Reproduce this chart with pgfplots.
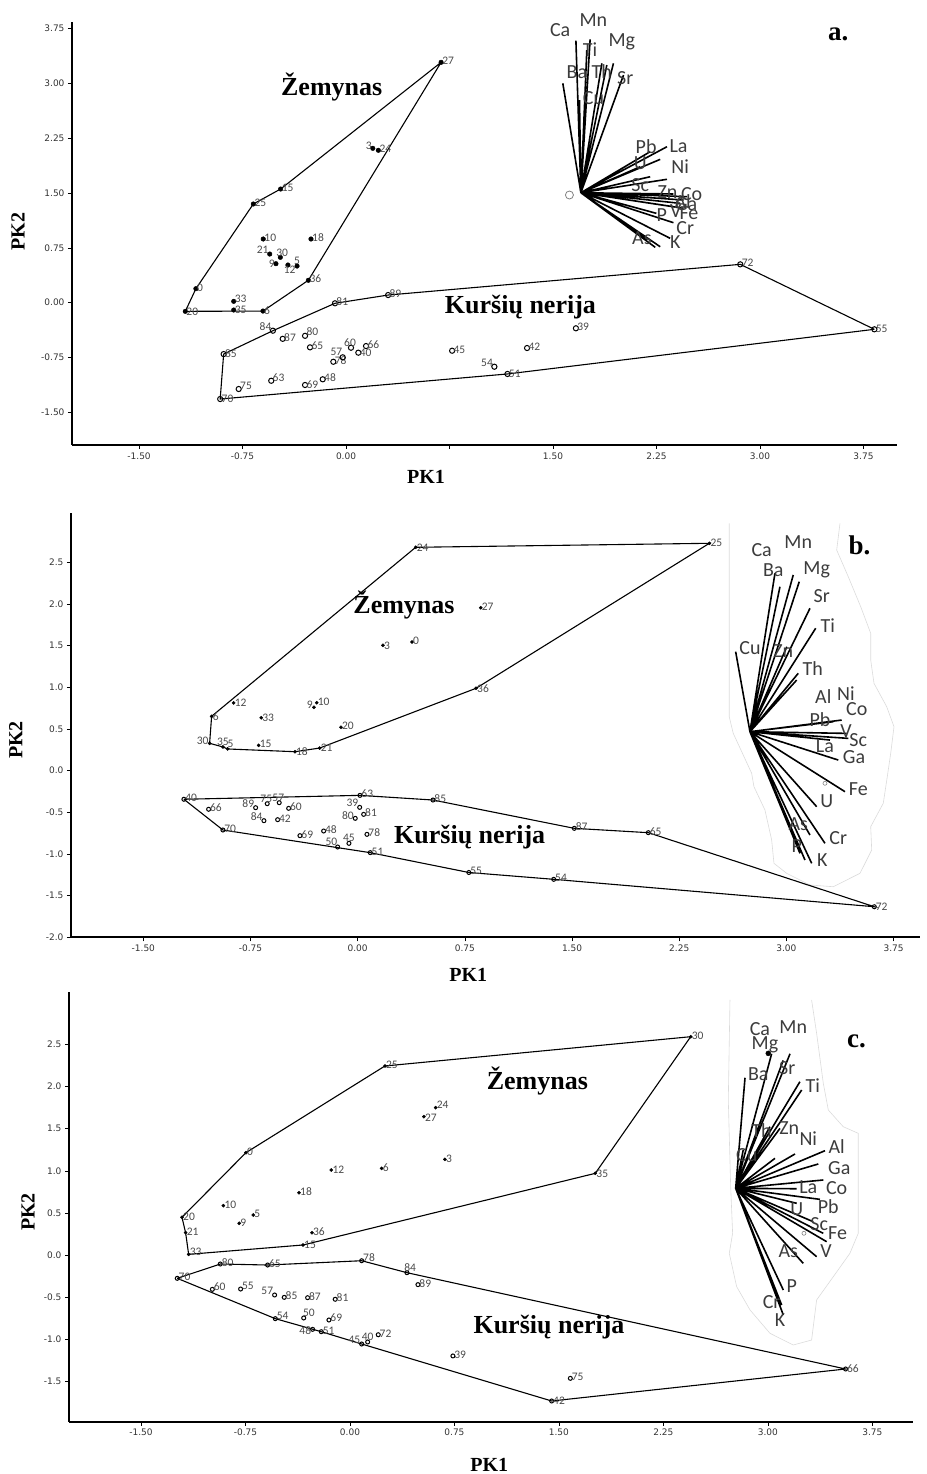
\documentclass[border=0pt]{standalone}
\usepackage{fontspec}
\setmainfont{Liberation Serif}
\newfontfamily\tickfont{DejaVu Sans}
\newfontfamily\labfont{Carlito}
\usepackage{pgfplots}
\pgfplotsset{compat=1.18}
\definecolor{labgray}{HTML}{4A4A4A}
\definecolor{tickgray}{HTML}{333333}
\definecolor{lodgray}{HTML}{3C3C3C}

\pgfplotsset{
  bip/.style={scale only axis, clip=false,
    axis x line*=bottom, axis y line*=left,
    axis line style={line width=2pt,-},
    tick style={black,line width=0.6pt}, tick align=outside, major tick length=4pt,
    ticklabel style={font=\tickfont\fontsize{9}{10}\selectfont, text=tickgray},
    xtick={-1.5,-0.75,0,0.75,1.5,2.25,3,3.75},
    label style={font=\bfseries\fontsize{20}{24}\selectfont, anchor=center},
    xlabel={PK1}, ylabel={PK2}},
  Zp/.style={only marks, mark=*, black, nodes near coords, point meta=explicit symbolic,
    every node near coord/.append style={anchor=#1,
      font=\labfont\fontsize{11.5}{12}\selectfont, text=labgray, inner sep=1pt}},
  Kp/.style={Zp=#1, mark=o, mark options={line width=1pt}},
  hull/.style={black, line width=1.1pt, mark=none},
  lod/.style={black, line width=1.6pt, mark=none, unbounded coords=jump},
  paste/.style={black!14, line width=0.6pt, mark=none},
}
\tikzset{
  ltx/.style={font=\labfont\fontsize{20}{22}\selectfont, text=lodgray, inner sep=0pt, anchor=center},
  big/.style={font=\bfseries\fontsize{26}{30}\selectfont, anchor=center},
}

\begin{document}
\begin{tikzpicture}
\useasboundingbox (0pt,0pt) rectangle (926pt,1474pt);

% ================= a =================
\begin{axis}[bip, at={(72pt,1029pt)}, anchor=south west,
  width=825pt, height=423pt,
  xmin=-1.986, xmax=3.993, ymin=-1.947, ymax=3.842,
  xticklabels={-1.50,-0.75,0.00,,1.50,2.25,3.00,3.75},
  ytick={-1.5,-0.75,0,0.75,1.5,2.25,3,3.75},
  yticklabels={-1.50,-0.75,0.00,0.75,1.50,2.25,3.00,3.75},
  xlabel style={at={(axis description cs:0.429,-0.0757)}},
  ylabel style={at={(axis description cs:-0.0655,0.504)}},
]
\addplot[hull] coordinates {(0.689,3.290) (-0.273,0.307) (-0.602,-0.114) (-1.165,-0.118) (-1.088,0.192) (-0.672,1.351) (-0.474,1.556) (0.689,3.290)};
\addplot[hull] coordinates {(3.829,-0.364) (2.857,0.525) (0.305,0.105) (-0.080,-0.008) (-0.530,-0.383) (-0.887,-0.703) (-0.912,-1.318) (1.170,-0.975) (3.829,-0.364)};
\addplot[lod] coordinates {
(1.702,1.505) (1.666,3.586) (nan,nan) (1.702,1.505) (1.571,3.003) (nan,nan)
(1.702,1.505) (1.769,3.605) (nan,nan) (1.702,1.505) (1.745,3.458) (nan,nan)
(1.702,1.505) (1.692,2.774) (nan,nan) (1.702,1.505) (1.854,3.276) (nan,nan)
(1.702,1.505) (1.938,3.276) (nan,nan) (1.702,1.505) (2.011,3.116) (nan,nan)
(1.702,1.505) (1.890,3.253) (nan,nan) (1.702,1.505) (2.326,2.135) (nan,nan)
(1.702,1.505) (2.277,1.962) (nan,nan) (1.702,1.505) (2.204,2.067) (nan,nan)
(1.702,1.505) (2.132,1.861) (nan,nan) (1.702,1.505) (2.326,1.689) (nan,nan)
(1.702,1.505) (2.204,1.724) (nan,nan) (1.702,1.505) (2.373,1.488) (nan,nan)
(1.702,1.505) (2.471,1.451) (nan,nan) (1.702,1.505) (2.446,1.405) (nan,nan)
(1.702,1.505) (2.422,1.360) (nan,nan) (1.702,1.505) (2.373,1.314) (nan,nan)
(1.702,1.505) (2.446,1.292) (nan,nan) (1.702,1.505) (2.249,1.223) (nan,nan)
(1.702,1.505) (2.373,1.095) (nan,nan) (1.702,1.505) (2.349,0.881) (nan,nan)
(1.702,1.505) (2.241,0.758) (nan,nan) (1.702,1.505) (2.181,0.858) (nan,nan)
(1.702,1.505) (2.277,0.766)};
\addplot[only marks, mark=o, mark size=4pt, gray, mark options={line width=0.8pt}] coordinates {(1.619,1.474)};
% Zemynas (filled)
\addplot[Zp=190, mark size=2.3pt] coordinates {(0.689,3.290)[27] (0.234,2.086)[24] (-0.474,1.556)[15] (-0.672,1.351)[25] (-0.600,0.872)[10] (-0.254,0.872)[18] (-0.273,0.307)[36] (-1.088,0.192)[0]};
\addplot[Zp=330, mark size=2.3pt] coordinates {(0.194,2.113)[3] (-0.553,0.666)[21]};
\addplot[Zp=250, mark size=2.3pt] coordinates {(-0.476,0.621)[30]};
\addplot[Zp=0, mark size=2.3pt] coordinates {(-0.508,0.534)[9]};
\addplot[Zp=110, mark size=2.3pt] coordinates {(-0.421,0.516)[12]};
\addplot[Zp=270, mark size=2.3pt] coordinates {(-0.355,0.502)[5]};
\addplot[Zp=200, mark size=2.3pt] coordinates {(-0.814,0.019)[33]};
\addplot[Zp=180, mark size=2.3pt] coordinates {(-0.814,-0.100)[35] (-1.165,-0.118)[20] (-0.602,-0.114)[6]};
% Kursiu (open)
\addplot[Kp=190, mark size=2.6pt] coordinates {(0.305,0.105)[89] (-0.080,-0.008)[81] (-0.459,-0.494)[87] (-0.261,-0.611)[65] (-0.092,-0.808)[78] (0.145,-0.593)[66] (0.769,-0.657)[45] (-0.169,-1.048)[48] (2.857,0.525)[72] (1.666,-0.350)[39] (1.312,-0.620)[42]};
\addplot[Kp=330, mark size=2.6pt] coordinates {(-0.530,-0.383)[84] (1.075,-0.876)[54]};
\addplot[Kp=210, mark size=2.6pt] coordinates {(-0.297,-0.453)[80]};
\addplot[Kp=180, mark size=2.6pt] coordinates {(-0.887,-0.703)[85] (0.089,-0.684)[40] (-0.297,-1.126)[69] (-0.912,-1.318)[70] (3.829,-0.364)[55] (1.170,-0.975)[51]};
\addplot[Kp=280, mark size=2.6pt] coordinates {(0.036,-0.616)[60]};
\addplot[Kp=320, mark size=2.6pt] coordinates {(-0.024,-0.747)[57]};
\addplot[Kp=200, mark size=2.6pt] coordinates {(-0.542,-1.068)[63] (-0.778,-1.181)[75]};
\node[big] at (axis cs:-0.104,2.956) {Žemynas};
\node[big] at (axis cs:1.264,-0.055) {Kuršių nerija};
\node[big, font=\bfseries\fontsize{27}{30}\selectfont] at (axis cs:3.568,3.666) {a.};
\node[ltx] at (axis cs:1.552,3.732) {Ca};
\node[ltx] at (axis cs:1.793,3.869) {Mn};
\node[ltx] at (axis cs:1.769,3.458) {Ti};
\node[ltx] at (axis cs:1.999,3.572) {Mg};
\node[ltx] at (axis cs:1.673,3.161) {Ba};
\node[ltx] at (axis cs:1.854,3.161) {Th};
\node[ltx] at (axis cs:2.023,3.071) {Sr};
\node[ltx] at (axis cs:1.793,2.797) {Cu};
\node[ltx] at (axis cs:2.175,2.135) {Pb};
\node[ltx] at (axis cs:2.410,2.149) {La};
\node[ltx] at (axis cs:2.132,1.908) {U};
\node[ltx] at (axis cs:2.422,1.861) {Ni};
\node[ltx] at (axis cs:2.132,1.611) {Sc};
\node[ltx] at (axis cs:2.330,1.520) {Zn};
\node[ltx] at (axis cs:2.505,1.480) {Co};
\node[ltx] at (axis cs:2.440,1.390) {Al};
\node[ltx] at (axis cs:2.465,1.345) {Ga};
\node[ltx] at (axis cs:2.390,1.260) {V};
\node[ltx] at (axis cs:2.485,1.225) {Fe};
\node[ltx] at (axis cs:2.289,1.200) {P};
\node[ltx] at (axis cs:2.458,1.018) {Cr};
\node[ltx] at (axis cs:2.144,0.881) {As};
\node[ltx] at (axis cs:2.386,0.835) {K};
\end{axis}

% ================= b =================
\begin{axis}[bip, at={(71pt,536.7pt)}, anchor=south west,
  width=849pt, height=424.3pt,
  xmin=-2.006, xmax=3.935, ymin=-2.0, ymax=3.094,
  xticklabels={-1.50,-0.75,0.00,0.75,1.50,2.25,3.00,3.75},
  ytick={-2,-1.5,-1,-0.5,0,0.5,1,1.5,2,2.5},
  yticklabels={-2.0,-1.5,-1.0,-0.5,0.0,0.5,1.0,1.5,2.0,2.5},
  xlabel style={at={(axis description cs:0.468,-0.089)}},
  ylabel style={at={(axis description cs:-0.065,0.465)}},
]
\addplot[paste] coordinates {(2.600,2.970) (2.600,0.648) (2.628,0.449) (2.757,-0.031) (2.773,-0.192) (2.850,-0.472) (2.897,-0.832) (2.913,-1.112) (3.002,-1.232) (3.165,-1.372) (3.328,-1.393) (3.515,-1.232) (3.597,-0.952) (3.590,-0.672) (3.678,-0.391) (3.706,-0.072) (3.730,0.209) (3.753,0.528) (3.702,0.768) (3.613,1.049) (3.590,1.329) (3.590,1.649) (3.520,1.969) (3.433,2.329) (3.352,2.649) (3.375,2.970)};
\addplot[hull] coordinates {(0.406,2.682) (2.461,2.730) (0.828,0.989) (-0.266,0.272) (-0.439,0.228) (-0.910,0.261) (-0.943,0.285) (-1.036,0.329) (-1.022,0.653) (0.406,2.682)};
\addplot[hull] coordinates {(-1.216,-0.343) (0.016,-0.296) (0.527,-0.352) (1.516,-0.692) (2.034,-0.744) (3.615,-1.633) (1.372,-1.304) (0.778,-1.222) (0.088,-0.984) (-0.943,-0.712) (-1.216,-0.343)};
\addplot[lod] coordinates {
(2.745,0.468) (2.645,1.429) (nan,nan) (2.745,0.468) (2.920,2.370) (nan,nan)
(2.745,0.468) (3.048,2.350) (nan,nan) (2.745,0.468) (3.090,2.269) (nan,nan)
(2.745,0.468) (3.165,1.950) (nan,nan) (2.745,0.468) (3.205,1.710) (nan,nan)
(2.745,0.468) (3.003,1.488) (nan,nan) (2.745,0.468) (3.083,1.169) (nan,nan)
(2.745,0.468) (2.955,2.209) (nan,nan) (2.745,0.468) (3.072,1.088) (nan,nan)
(2.745,0.468) (3.387,0.608) (nan,nan) (2.745,0.468) (3.328,0.588) (nan,nan)
(2.745,0.468) (3.422,0.448) (nan,nan) (2.745,0.468) (3.434,0.388) (nan,nan)
(2.745,0.468) (3.305,0.368) (nan,nan) (2.745,0.468) (3.363,0.128) (nan,nan)
(2.745,0.468) (3.410,-0.252) (nan,nan) (2.745,0.468) (3.212,-0.432) (nan,nan)
(2.745,0.468) (3.270,-0.872) (nan,nan) (2.745,0.468) (3.165,-0.772) (nan,nan)
(2.745,0.468) (3.177,-1.112) (nan,nan) (2.745,0.468) (3.130,-1.072) (nan,nan)
(2.745,0.468) (3.095,-0.992)};
\addplot[only marks, mark=o, mark size=2pt, gray, mark options={line width=0.6pt}] coordinates {(3.270,-0.151)};
\addplot[Zp=180, mark size=1.6pt] coordinates {(0.406,2.682)[24] (2.461,2.730)[25] (0.177,1.505)[3] (0.828,0.989)[36] (-0.868,0.813)[12] (-1.022,0.653)[6] (-0.675,0.636)[33] (-0.439,0.228)[18] (-0.266,0.272)[21]};
\addplot[Zp=190, mark size=1.6pt] coordinates {(0.861,1.957)[27] (0.380,1.545)[0] (-0.287,0.816)[10] (-0.117,0.521)[20] (-0.693,0.305)[15]};
\addplot[Zp=330, mark size=1.6pt] coordinates {(-0.306,0.761)[9]};
\addplot[Zp=340, mark size=1.6pt] coordinates {(-1.036,0.329)[30]};
\addplot[Zp=270, mark size=1.6pt] coordinates {(-0.943,0.285)[35]};
\addplot[Zp=240, mark size=1.6pt] coordinates {(-0.910,0.261)[5]};
\addplot[Kp=190, mark size=2pt] coordinates {(-1.216,-0.343)[40] (-1.043,-0.463)[66] (-0.943,-0.712)[70] (-0.483,-0.452)[60] (-0.560,-0.588)[42] (-0.404,-0.780)[69] (-0.238,-0.724)[48] (0.042,-0.524)[81] (0.016,-0.296)[63] (0.527,-0.352)[85] (0.065,-0.764)[78] (0.088,-0.984)[51] (0.778,-1.222)[55] (1.516,-0.692)[87] (2.034,-0.744)[65] (1.372,-1.304)[54]};
\addplot[Kp=330, mark size=2pt] coordinates {(-0.714,-0.444)[89] (-0.656,-0.600)[84] (0.014,-0.440)[39]};
\addplot[Kp=280, mark size=2pt] coordinates {(-0.633,-0.396)[75] (-0.549,-0.384)[57]};
\addplot[Kp=320, mark size=2pt] coordinates {(-0.140,-0.916)[50]};
\addplot[Kp=270, mark size=2pt] coordinates {(-0.061,-0.872)[45]};
\addplot[Kp=340, mark size=2pt] coordinates {(-0.017,-0.572)[80]};
\addplot[Kp=180, mark size=2pt] coordinates {(3.615,-1.633)[72]};
\node[big] at (axis cs:0.324,1.989) {Žemynas};
\node[big] at (axis cs:0.784,-0.792) {Kuršių nerija};
\node[big, font=\bfseries\fontsize{27}{30}\selectfont] at (axis cs:3.511,2.708) {b.};
\node[ltx] at (axis cs:2.827,2.649) {Ca};
\node[ltx] at (axis cs:3.083,2.749) {Mn};
\node[ltx] at (axis cs:2.908,2.409) {Ba};
\node[ltx] at (axis cs:3.212,2.409) {Mg};
\node[ltx] at (axis cs:3.247,2.097) {Sr};
\node[ltx] at (axis cs:3.289,1.737) {Ti};
\node[ltx] at (axis cs:2.745,1.477) {Cu};
\node[ltx] at (axis cs:2.978,1.441) {Zn};
\node[ltx] at (axis cs:3.184,1.221) {Th};
\node[ltx] at (axis cs:3.258,0.888) {Al};
\node[ltx] at (axis cs:3.417,0.929) {Ni};
\node[ltx] at (axis cs:3.492,0.737) {Co};
\node[ltx] at (axis cs:3.235,0.609) {Pb};
\node[ltx] at (axis cs:3.417,0.480) {V};
\node[ltx] at (axis cs:3.503,0.369) {Sc};
\node[ltx] at (axis cs:3.270,0.297) {La};
\node[ltx] at (axis cs:3.473,0.168) {Ga};
\node[ltx] at (axis cs:3.503,-0.223) {Fe};
\node[ltx] at (axis cs:3.282,-0.364) {U};
\node[ltx] at (axis cs:3.083,-0.640) {As};
\node[ltx] at (axis cs:3.363,-0.812) {Cr};
\node[ltx] at (axis cs:3.072,-0.904) {P};
\node[ltx] at (axis cs:3.251,-1.072) {K};
\end{axis}

% ================= c =================
\begin{axis}[bip, at={(69pt,52.3pt)}, anchor=south west,
  width=844pt, height=429.7pt,
  xmin=-2.017, xmax=4.042, ymin=-1.980, ymax=3.124,
  xticklabels={-1.50,-0.75,0.00,0.75,1.50,2.25,3.00,3.75},
  ytick={-2,-1.5,-1,-0.5,0,0.5,1,1.5,2,2.5},
  yticklabels={-2.0,-1.5,-1.0,-0.5,0.0,0.5,1.0,1.5,2.0,2.5},
  xlabel style={at={(axis description cs:0.498,-0.10)}},
  ylabel style={at={(axis description cs:-0.0486,0.488)}},
]
\addplot[paste] coordinates {(2.728,3.029) (2.716,1.841) (2.733,0.811) (2.747,0.258) (2.723,0.020) (2.776,-0.376) (2.872,-0.653) (3.015,-0.930) (3.182,-1.069) (3.314,-1.010) (3.350,-0.534) (3.470,-0.257) (3.589,0.020) (3.649,0.258) (3.649,1.445) (3.541,1.524) (3.434,1.722) (3.398,2.039) (3.350,2.633) (3.314,3.029)};
\addplot[hull] coordinates {(0.251,2.245) (2.446,2.593) (1.761,0.970) (-0.337,0.119) (-1.158,0.008) (-1.180,0.265) (-1.206,0.448) (-0.747,1.215) (0.251,2.245)};
\addplot[hull] coordinates {(-1.240,-0.277) (-0.931,-0.107) (-0.591,-0.119) (0.084,-0.068) (0.409,-0.210) (3.558,-1.354) (1.448,-1.734) (0.084,-1.057) (-0.206,-0.911) (-0.536,-0.756) (-1.240,-0.277)};
\addplot[lod] coordinates {
(2.769,0.792) (2.836,2.105) (nan,nan) (2.769,0.792) (3.027,2.390) (nan,nan)
(2.769,0.792) (3.159,2.390) (nan,nan) (2.769,0.792) (3.110,2.311) (nan,nan)
(2.769,0.792) (3.230,2.058) (nan,nan) (2.769,0.792) (3.243,1.960) (nan,nan)
(2.769,0.792) (3.015,1.524) (nan,nan) (2.769,0.792) (3.087,1.504) (nan,nan)
(2.769,0.792) (2.823,1.247) (nan,nan) (2.769,0.792) (3.195,1.200) (nan,nan)
(2.769,0.792) (3.051,1.148) (nan,nan) (2.769,0.792) (3.410,1.239) (nan,nan)
(2.769,0.792) (3.362,1.081) (nan,nan) (2.769,0.792) (3.398,0.891) (nan,nan)
(2.769,0.792) (3.207,0.787) (nan,nan) (2.769,0.792) (3.374,0.661) (nan,nan)
(2.769,0.792) (3.207,0.614) (nan,nan) (2.769,0.792) (3.326,0.395) (nan,nan)
(2.769,0.792) (3.398,0.257) (nan,nan) (2.769,0.792) (3.422,0.158) (nan,nan)
(2.769,0.792) (3.350,-0.020) (nan,nan) (2.769,0.792) (3.254,-0.099) (nan,nan)
(2.769,0.792) (3.111,-0.416) (nan,nan) (2.769,0.792) (3.099,-0.594) (nan,nan)
(2.769,0.792) (3.111,-0.713)};
\addplot[only marks, mark=*, mark size=2.5pt, black] coordinates {(3.003,2.395)};
\addplot[only marks, mark=o, mark size=2pt, gray, mark options={line width=0.6pt}] coordinates {(3.259,0.258)};
\addplot[Zp=190, mark size=1.6pt] coordinates {(0.251,2.245)[25] (2.446,2.593)[30] (-0.747,1.215)[0] (0.682,1.136)[3] (0.227,1.029)[6] (-0.366,0.740)[18] (-0.909,0.586)[10] (-0.795,0.376)[9] (-1.180,0.265)[21] (-0.273,0.265)[36]};
\addplot[Zp=180, mark size=1.6pt] coordinates {(1.761,0.970)[35] (-0.134,1.010)[12] (-1.206,0.448)[20] (-0.337,0.119)[15]};
\addplot[Zp=200, mark size=1.6pt] coordinates {(0.615,1.750)[24] (-0.694,0.475)[5] (-1.158,0.008)[33]};
\addplot[Zp=170, mark size=1.6pt] coordinates {(0.531,1.643)[27]};
\addplot[Kp=190, mark size=2pt] coordinates {(-0.931,-0.107)[80] (-0.591,-0.119)[65] (0.488,-0.352)[89] (-1.240,-0.277)[70] (-0.472,-0.503)[85] (-0.304,-0.507)[87] (-0.106,-0.526)[81] (-0.206,-0.911)[51] (0.203,-0.947)[72] (0.739,-1.199)[39] (1.582,-1.465)[75]};
\addplot[Kp=200, mark size=2pt] coordinates {(0.084,-0.068)[78] (-0.988,-0.408)[60] (-0.785,-0.404)[55] (-0.536,-0.756)[54] (-0.151,-0.772)[69]};
\addplot[Kp=240, mark size=2pt] coordinates {(0.409,-0.210)[84]};
\addplot[Kp=330, mark size=2pt] coordinates {(-0.541,-0.475)[57] (0.084,-1.057)[45]};
\addplot[Kp=225, mark size=2pt] coordinates {(-0.332,-0.748)[50]};
\addplot[Kp=10, mark size=2pt] coordinates {(-0.268,-0.883)[48]};
\addplot[Kp=270, mark size=2pt] coordinates {(0.127,-1.033)[40]};
\addplot[Kp=180, mark size=2pt] coordinates {(1.448,-1.734)[42] (3.558,-1.354)[66]};
\node[big] at (axis cs:1.345,2.066) {Žemynas};
\node[big] at (axis cs:1.429,-0.852) {Kuršių nerija};
\node[big, font=\bfseries\fontsize{27}{30}\selectfont] at (axis cs:3.637,2.533) {c.};
\node[ltx] at (axis cs:2.943,2.681) {Ca};
\node[ltx] at (axis cs:3.182,2.704) {Mn};
\node[ltx] at (axis cs:2.979,2.494) {Mg};
\node[ltx] at (axis cs:3.139,2.217) {Sr};
\node[ltx] at (axis cs:2.931,2.150) {Ba};
\node[ltx] at (axis cs:3.322,2.007) {Ti};
\node[ltx] at (axis cs:2.955,1.476) {Th};
\node[ltx] at (axis cs:3.154,1.505) {Zn};
\node[ltx] at (axis cs:3.290,1.386) {Ni};
\node[ltx] at (axis cs:2.848,1.188) {Cu};
\node[ltx] at (axis cs:3.494,1.286) {Al};
\node[ltx] at (axis cs:3.513,1.030) {Ga};
\node[ltx] at (axis cs:3.290,0.811) {La};
\node[ltx] at (axis cs:3.494,0.799) {Co};
\node[ltx] at (axis cs:3.434,0.574) {Pb};
\node[ltx] at (axis cs:3.207,0.543) {U};
\node[ltx] at (axis cs:3.369,0.368) {Sc};
\node[ltx] at (axis cs:3.501,0.265) {Fe};
\node[ltx] at (axis cs:3.146,0.051) {As};
\node[ltx] at (axis cs:3.417,0.051) {V};
\node[ltx] at (axis cs:3.171,-0.368) {P};
\node[ltx] at (axis cs:3.027,-0.555) {Cr};
\node[ltx] at (axis cs:3.087,-0.772) {K};
\end{axis}
\end{tikzpicture}
\end{document}
